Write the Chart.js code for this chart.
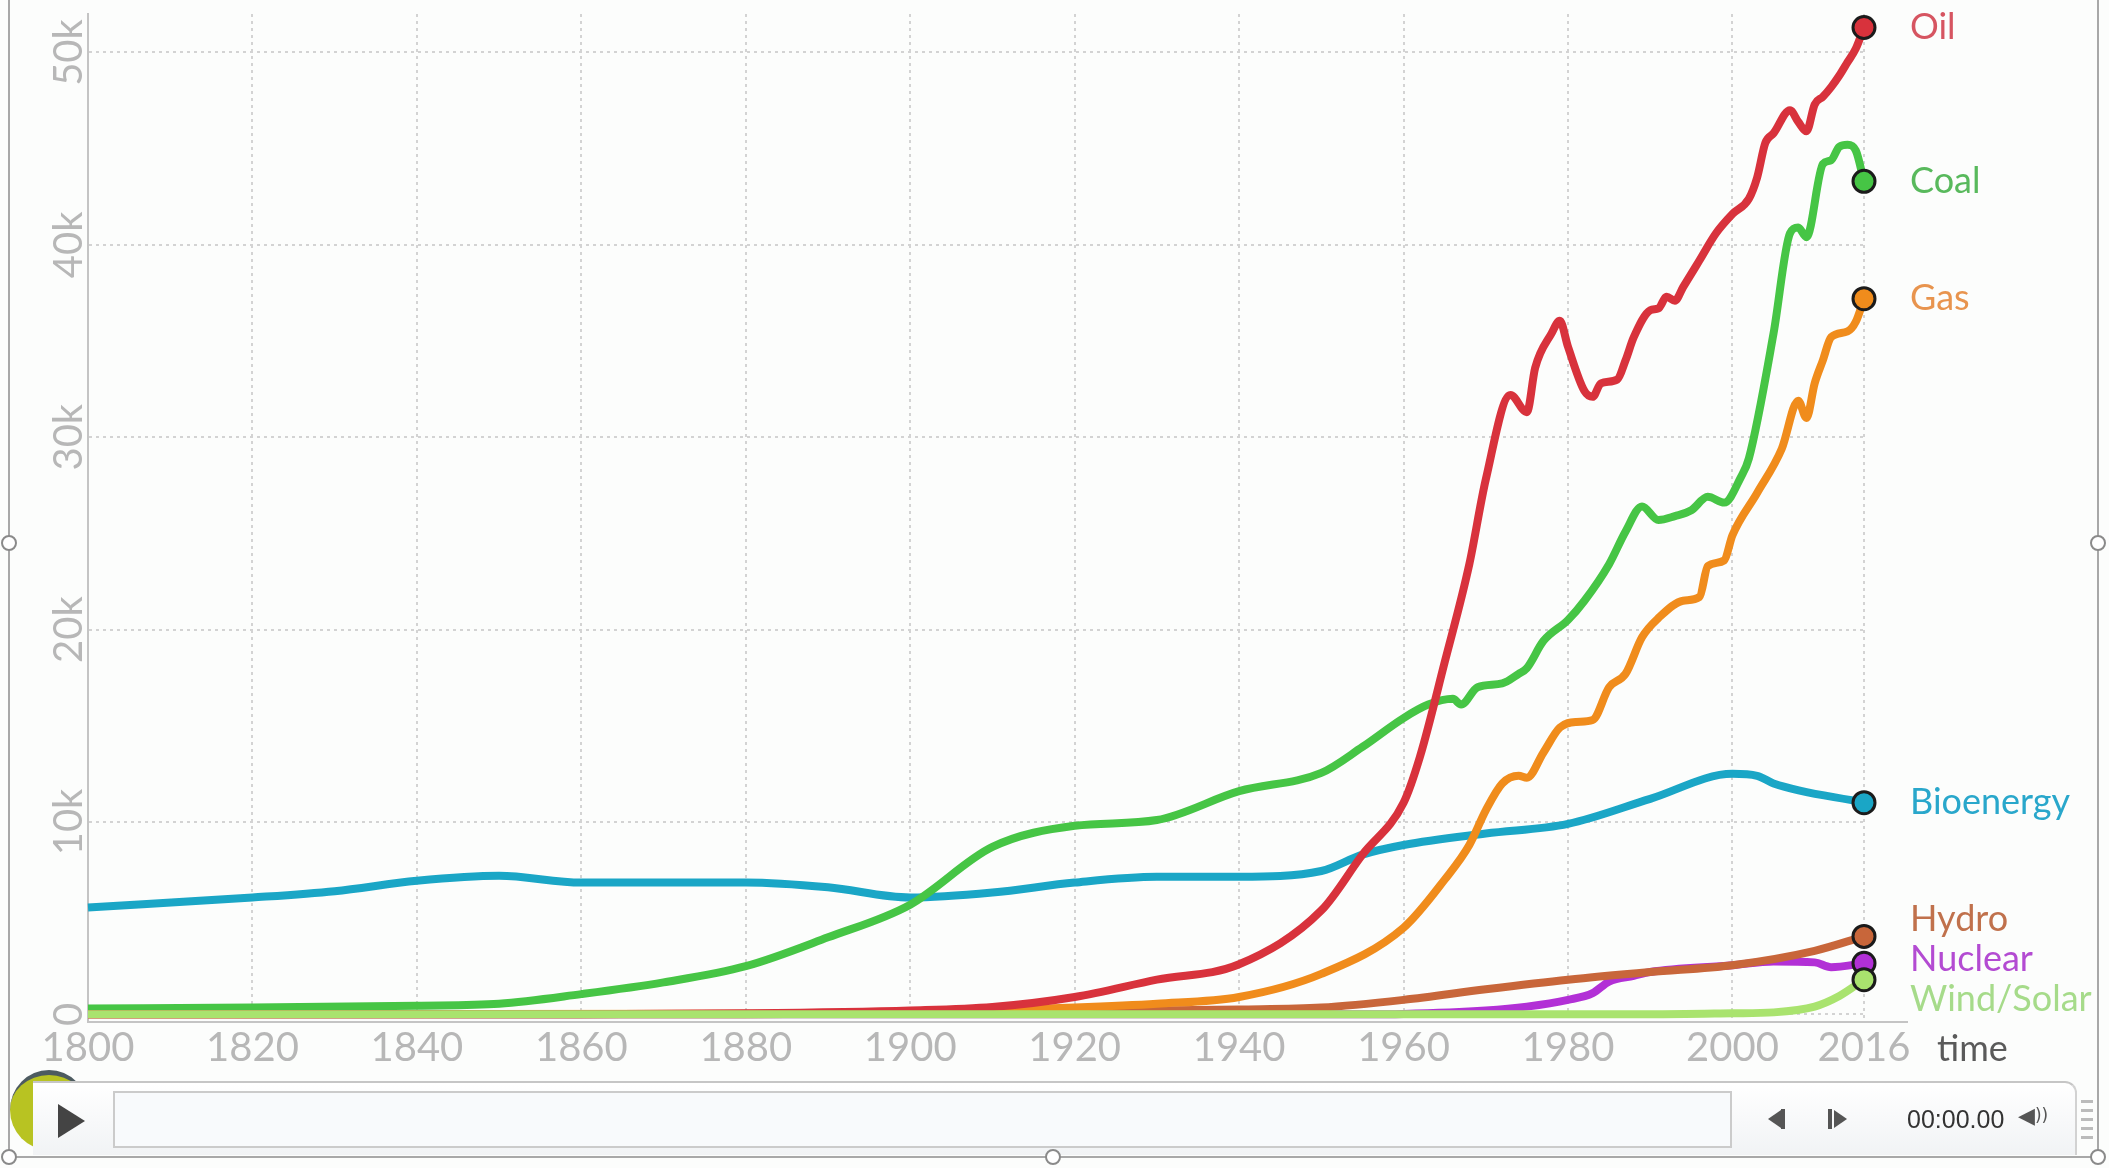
<!DOCTYPE html>
<html lang="en">
<head>
<meta charset="UTF-8">
<title>Energy consumption by source, 1800-2016</title>
<script src="https://cdn.jsdelivr.net/npm/chart.js"></script>
<style>
  body { margin: 0; background: #fcfdfc; font-family: Lato, "Open Sans", sans-serif; }
  #wrap { position: relative; width: 2109px; height: 1168px; overflow: hidden; }
  #energyChart { position: absolute; left: 0; top: 0; }

  /* selection frame round the slide object */
  .frame { position: absolute; background: #a8a8a8; }
  .handle { position: absolute; width: 12px; height: 12px; border: 2px solid #8a8a8a;
            border-radius: 50%; background: #fff; margin: -8px 0 0 -8px; z-index: 5; }

  /* media player bar */
  #logo { position: absolute; left: 10px; top: 1070px; width: 78px; height: 80px; border-radius: 50%;
          background: #b8c322; border-top: 5px solid #4d5b60; box-sizing: border-box; z-index: 1; }
  #bar { position: absolute; left: 33px; top: 1081px; width: 2044px; height: 74px; box-sizing: border-box;
         border-top: 2px solid #c6c6c6; border-right: 2px solid #d2d2d2; border-top-right-radius: 12px;
         background: linear-gradient(#ffffff, #f1f3f5); z-index: 2; }
  #play { position: absolute; left: 25px; top: 21px; width: 0; height: 0;
          border-top: 17px solid transparent; border-bottom: 17px solid transparent; border-left: 27px solid #444; }
  #track { position: absolute; left: 80px; top: 8px; width: 1619px; height: 57px; box-sizing: border-box;
           border: 2px solid #cbcbcb; background: #f8fafc; }
  .tri-l { position: absolute; width: 0; height: 0; border-top: 9px solid transparent; border-bottom: 9px solid transparent; border-right: 13px solid #555; }
  .tri-r { position: absolute; width: 0; height: 0; border-top: 9px solid transparent; border-bottom: 9px solid transparent; border-left: 13px solid #555; }
  .bar-v { position: absolute; width: 4px; height: 20px; background: #555; }
  #clock { position: absolute; left: 1874px; top: 22px; font: 25px "Liberation Sans", Arial, sans-serif; color: #333; }
  #spk { position: absolute; left: 1985px; top: 20px; font: 22px "DejaVu Sans", sans-serif; color: #555; }
  #menu { position: absolute; left: 2081px; top: 1100px; width: 12px; height: 42px; z-index: 2;
          background: repeating-linear-gradient(#bbb 0 3px, transparent 3px 9px); }
</style>
</head>
<body>
<div id="wrap">
  <canvas id="energyChart" width="2109" height="1168"></canvas>

  <div id="logo"></div>
  <div id="bar">
    <div id="play"></div>
    <div id="track"></div>
    <div class="tri-l" style="left:1735px; top:27px;"></div>
    <div class="bar-v" style="left:1748px; top:26px;"></div>
    <div class="bar-v" style="left:1795px; top:26px;"></div>
    <div class="tri-r" style="left:1801px; top:27px;"></div>
    <div id="clock">00:00.00</div>
    <div id="spk">◀<span style="font-size:17px; position:relative; top:-2px;">))</span></div>
  </div>
  <div id="menu"></div>

  <div class="frame" style="left:8px; top:0; width:2px; height:1158px;"></div>
  <div class="frame" style="left:2097px; top:0; width:2px; height:1158px;"></div>
  <div class="frame" style="left:8px; top:1156px; width:2091px; height:2px;"></div>
  <div class="handle" style="left:9px; top:543px;"></div>
  <div class="handle" style="left:2098px; top:543px;"></div>
  <div class="handle" style="left:9px; top:1157px;"></div>
  <div class="handle" style="left:1053px; top:1157px;"></div>
  <div class="handle" style="left:2098px; top:1157px;"></div>
</div>

<script>
    // x ticks and y ticks
    const xTicks = [1800, 1820, 1840, 1860, 1880, 1900, 1920, 1940, 1960, 1980, 2000, 2016];
    const yTicks = [0, 10000, 20000, 30000, 40000, 50000];

    // energy use per source
    const oilYears = [1800, 1860, 1880, 1900, 1910, 1920, 1930, 1940, 1950, 1955, 1960, 1962, 1965, 1968, 1970,
        1973, 1975, 1976, 1978, 1979, 1980, 1982, 1983, 1984, 1986, 1987, 1988, 1990, 1991, 1992, 1993, 1994,
        1996, 1998, 2000, 2002, 2003, 2004, 2005, 2007, 2008, 2009, 2010, 2011, 2012, 2013, 2014, 2015, 2016];
    const oilValues = [0, 0, 50, 200, 380, 900, 1800, 2600, 5400, 8300, 11000, 13400, 18300, 23400, 27800,
        32200, 31300, 33600, 35400, 36050, 34700, 32400, 32100, 32800, 33000, 34000, 35200, 36600, 36700, 37300, 37100, 37800,
        39200, 40600, 41600, 42400, 43500, 45300, 45800, 47000, 46400, 45900, 47300, 47700, 48200, 48800, 49500, 50200, 51300];

    const coalYears = [1800, 1820, 1840, 1850, 1860, 1870, 1880, 1890, 1900, 1910, 1920, 1930, 1940, 1950, 1955,
        1960, 1963, 1966, 1967, 1969, 1972, 1974, 1975, 1977, 1980, 1982, 1985, 1987, 1989, 1991, 1993, 1995,
        1997, 1999, 2001, 2002, 2005, 2007, 2008, 2009, 2011, 2012, 2013, 2014, 2015, 2016];
    const coalValues = [300, 350, 450, 550, 1050, 1660, 2500, 4000, 5700, 8700, 9800, 10100, 11600, 12550, 13900,
        15400, 16100, 16400, 16100, 17000, 17200, 17700, 18000, 19400, 20500, 21500, 23400, 25100, 26400, 25700, 25900, 26200,
        26900, 26600, 27900, 28900, 35400, 40600, 40900, 40400, 44200, 44400, 45100, 45200, 44900, 43300];

    const gasYears = [1800, 1880, 1900, 1920, 1930, 1940, 1950, 1960, 1965, 1968, 1970, 1972, 1974, 1975, 1977,
        1979, 1981, 1983, 1985, 1987, 1989, 1991, 1994, 1996, 1997, 1999, 2000, 2003, 2006, 2008, 2009, 2010,
        2011, 2012, 2014, 2015, 2016];
    const gasValues = [0, 30, 100, 350, 550, 900, 2100, 4500, 7000, 8800, 10600, 12000, 12400, 12300, 13600,
        14900, 15200, 15300, 17000, 17700, 19600, 20600, 21500, 21700, 23300, 23600, 24900, 27100, 29400, 31900, 31000, 32800,
        34000, 35200, 35500, 36000, 37200];

    const bioYears = [1800, 1820, 1830, 1840, 1850, 1860, 1880, 1890, 1900, 1910, 1920, 1930, 1940, 1950, 1955,
        1960, 1970, 1980, 1990, 2000, 2003, 2005, 2016];
    const bioValues = [5550, 6070, 6400, 6940, 7200, 6850, 6850, 6600, 6070, 6330, 6850, 7150, 7150, 7450, 8300,
        8800, 9400, 9900, 11200, 12500, 12400, 12000, 11000];

    const hydroYears = [1800, 1880, 1900, 1920, 1940, 1950, 1960, 1970, 1980, 1990, 2000, 2010, 2016];
    const hydroValues = [0, 0, 50, 150, 250, 350, 750, 1300, 1800, 2200, 2550, 3300, 4050];

    const nuclearYears = [1800, 1955, 1960, 1970, 1975, 1980, 1983, 1985, 1988, 1990, 2000, 2005, 2010, 2012, 2016];
    const nuclearValues = [0, 0, 20, 200, 400, 750, 1100, 1700, 2000, 2200, 2550, 2750, 2700, 2450, 2650];

    const windYears = [1800, 1990, 2000, 2005, 2010, 2013, 2016];
    const windValues = [0, 0, 50, 100, 400, 950, 1800];

    // first entry is drawn on top
    const series = [
        { label: 'Wind/Solar', years: windYears, values: windValues, color: '#a9e36e', text: '#a6db8a' },
        { label: 'Oil', years: oilYears, values: oilValues, color: '#d8323c', text: '#d65561' },
        { label: 'Gas', years: gasYears, values: gasValues, color: '#f08c1c', text: '#e8944e' },
        { label: 'Coal', years: coalYears, values: coalValues, color: '#46c545', text: '#58b95c' },
        { label: 'Hydro', years: hydroYears, values: hydroValues, color: '#c8663a', text: '#c0714c' },
        { label: 'Nuclear', years: nuclearYears, values: nuclearValues, color: '#b230d6', text: '#b34bd2' },
        { label: 'Bioenergy', years: bioYears, values: bioValues, color: '#1aa6c6', text: '#29a7cb' }
    ];

    const tickFont = { family: 'Lato, "Open Sans", sans-serif', size: 40 };
    const tickColor = '#b7b7b7';
    const gridColor = '#d3d3d3';

    // series names at the right end, pushed apart where they would overlap
    const endLabels = {
        id: 'endLabels',
        afterDatasetsDraw(chart) {
            const ctx = chart.ctx;
            const gap = 40;
            let items = chart.data.datasets.map((ds, i) => {
                const meta = chart.getDatasetMeta(i);
                const pt = meta.data[meta.data.length - 1];
                return { text: ds.label, color: series[i].text, target: pt.y };
            }).sort((a, b) => a.target - b.target);

            let groups = items.map(it => ({ items: [it], top: it.target }));
            let merged = true;
            while (merged) {
                merged = false;
                for (let i = 0; i < groups.length - 1; i++) {
                    const a = groups[i], b = groups[i + 1];
                    if (b.top < a.top + a.items.length * gap) {
                        const all = a.items.concat(b.items);
                        const mean = all.reduce((s, it) => s + it.target, 0) / all.length;
                        groups.splice(i, 2, { items: all, top: mean - (all.length - 1) * gap / 2 });
                        merged = true;
                        break;
                    }
                }
            }

            ctx.save();
            ctx.font = '36px Lato, "Open Sans", sans-serif';
            ctx.textBaseline = 'middle';
            ctx.textAlign = 'left';
            const x = chart.chartArea.right + 46;
            groups.forEach(g => g.items.forEach((it, k) => {
                ctx.fillStyle = it.color;
                ctx.fillText(it.text, x, g.top + k * gap);
            }));
            ctx.restore();
        },
        afterDraw(chart) {
            const ctx = chart.ctx;
            const area = chart.chartArea;
            ctx.save();
            // x axis line runs a bit past the last year
            ctx.strokeStyle = '#c4c4c4';
            ctx.lineWidth = 2;
            ctx.beginPath();
            ctx.moveTo(area.right, area.bottom);
            ctx.lineTo(area.right + 44, area.bottom);
            ctx.stroke();
            // axis title
            ctx.fillStyle = '#5a5a5a';
            ctx.font = '36px Lato, "Open Sans", sans-serif';
            ctx.textBaseline = 'middle';
            ctx.fillText('time', area.right + 73, area.bottom + 27);
            ctx.restore();
        }
    };

    const ctx = document.getElementById('energyChart').getContext('2d');

    new Chart(ctx, {
        type: 'line',
        data: {
            datasets: series.map(s => ({
                label: s.label,
                data: s.years.map((y, i) => ({ x: y, y: s.values[i] })),
                borderColor: s.color,
                borderWidth: 8,
                cubicInterpolationMode: 'monotone',
                fill: false,
                clip: false,
                pointRadius: c => (c.dataIndex === s.years.length - 1 ? 11 : 0),
                pointHoverRadius: 0,
                pointBackgroundColor: s.color,
                pointBorderColor: '#1b1b1b',
                pointBorderWidth: 3
            }))
        },
        options: {
            responsive: false,
            animation: false,
            devicePixelRatio: 1,
            layout: { padding: { top: 12, right: 245, left: 0, bottom: 0 } },
            plugins: {
                legend: { display: false },
                tooltip: { enabled: false }
            },
            scales: {
                x: {
                    type: 'linear',
                    min: 1800,
                    max: 2016,
                    afterBuildTicks: scale => { scale.ticks = xTicks.map(v => ({ value: v })); },
                    afterFit: scale => { scale.height = 146; },
                    ticks: {
                        callback: v => String(v),
                        font: tickFont,
                        color: tickColor,
                        maxRotation: 0,
                        autoSkip: false,
                        padding: 2
                    },
                    grid: { color: gridColor, lineWidth: 2, drawTicks: false },
                    border: { display: true, color: '#c4c4c4', width: 2, dash: [3, 4] }
                },
                y: {
                    min: -400,
                    max: 52000,
                    afterBuildTicks: scale => { scale.ticks = yTicks.map(v => ({ value: v })); },
                    afterFit: scale => { scale.width = 88; },
                    ticks: {
                        callback: v => (v === 0 ? '0' : v / 1000 + 'k'),
                        font: tickFont,
                        color: tickColor,
                        minRotation: 90,
                        maxRotation: 90,
                        crossAlign: 'center',
                        padding: -14
                    },
                    grid: { color: gridColor, lineWidth: 2, drawTicks: false },
                    border: { display: true, color: '#c4c4c4', width: 2, dash: [3, 4] }
                }
            }
        },
        plugins: [endLabels]
    });
</script>
</body>
</html>
